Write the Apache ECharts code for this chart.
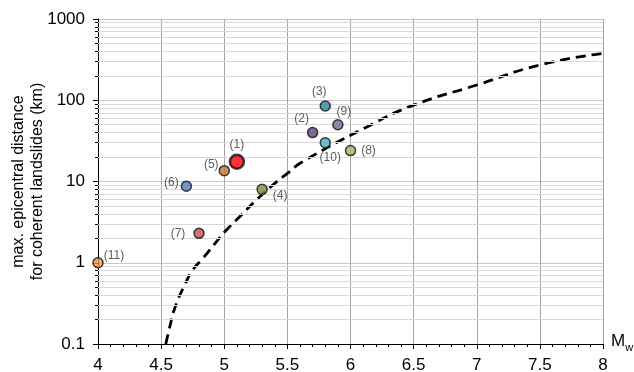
<!DOCTYPE html>
<html><head><meta charset="utf-8">
<script src="https://cdn.jsdelivr.net/npm/echarts@6/dist/echarts.min.js"></script>
<style>html,body{margin:0;padding:0;background:#fff}#c{width:634px;height:372px}</style>
</head><body><div id="c"></div>
<script>
// Data
const pointNames = ['(1)','(2)','(3)','(4)','(5)','(6)','(7)','(8)','(9)','(10)','(11)'];
const magnitudes = [5.1, 5.7, 5.8, 5.3, 5.0, 4.7, 4.8, 6.0, 5.9, 5.8, 4.0];
const distances = [17.5, 40, 85, 8.0, 13.6, 8.75, 2.3, 24, 50, 30, 1.0];
const curveMw = [4.537, 4.569, 4.608, 4.687, 4.752, 4.832, 4.95, 5.03, 5.136, 5.267, 5.386, 5.518, 5.60, 6.13, 6.50, 7.00, 7.50, 8.00];
const curveDist = [0.1, 0.164, 0.276, 0.535, 0.818, 1.14, 1.91, 2.66, 3.88, 6.2, 9.1, 13.2, 16.8, 47, 87, 154, 272, 378];
const xTicks = [4, 4.5, 5, 5.5, 6, 6.5, 7, 7.5, 8];
const yTicks = [0.1, 1, 10, 100, 1000];

// styles
const pointColors = ['#ff0000','#5f497a','#31859c','#77933c','#c5772f','#4f81bd','#c0504d','#9bbb59','#8064a2','#4bacc6','#f79646'];
const labelOffsets = [[0,-17],[-11,-14],[-6,-14],[18,6],[-13,-6],[-15,-4],[-21,0],[18,0],[6,-13],[5,15],[16,-7]];

const minorVals = [];
for (let d = 0; d < yTicks.length - 1; d++) {
  for (let k = 2; k <= 9; k++) minorVals.push(+(yTicks[d] * k).toPrecision(3));
}

const chart = echarts.init(document.getElementById('c'), null, {renderer: 'canvas'});
const font = 'Liberation Sans, Arial, sans-serif';
chart.setOption({
  animation: false,
  grid: {left: 98, right: 31, top: 19, bottom: 28, containLabel: false, outerBoundsMode: 'none'},
  xAxis: {
    type: 'value', min: 4, max: 8, interval: 0.5,
    name: '{m|M}{w|w}', nameLocation: 'end', nameGap: 8, nameMoveOverlap: false,
    nameTextStyle: {rich: {
      m: {fontSize: 17, fontFamily: font, color: '#000', padding: [0,0,6,0]},
      w: {fontSize: 11, fontFamily: font, color: '#000', padding: [8,0,0,0]}
    }},
    axisLine: {show: true, lineStyle: {color: '#000', width: 1}},
    axisTick: {show: true, length: 5, lineStyle: {color: '#000'}},
    minorTick: {show: true, splitNumber: 5, length: 3, lineStyle: {color: '#000'}},
    axisLabel: {fontSize: 17, fontFamily: font, color: '#000', margin: 13,
      formatter: v => xTicks.includes(v) ? String(v) : ''},
    splitLine: {show: true, lineStyle: {color: '#a6a6a6', width: 1}}
  },
  yAxis: {
    type: 'log', logBase: 10, min: 0.1, max: 1000,
    name: 'max. epicentral distance\nfor coherent landslides (km)',
    nameLocation: 'middle', nameGap: 51, nameRotate: 90, nameMoveOverlap: false,
    nameTextStyle: {fontSize: 16, fontFamily: font, color: '#000', lineHeight: 19},
    axisLine: {show: true, lineStyle: {color: '#000', width: 1}},
    axisTick: {show: true, length: 5, lineStyle: {color: '#000'}},
    minorTick: {show: true, splitNumber: 9, length: 3, lineStyle: {color: '#000'}},
    axisLabel: {fontSize: 17, fontFamily: font, color: '#000', margin: 13,
      formatter: v => String(+v.toPrecision(3))},
    splitLine: {show: true, lineStyle: {color: '#c8c8c8', width: 1}}
  },
  series: [
    {
      type: 'line', data: curveMw.map((m, i) => [m, curveDist[i]]),
      smooth: true, showSymbol: false, symbol: 'none',
      lineStyle: {color: '#000', width: 2.8, type: [10, 6]},
      markLine: {
        silent: true, symbol: 'none', label: {show: false},
        lineStyle: {color: '#d9d9d9', width: 1, type: 'solid'},
        data: minorVals.map(v => ({yAxis: v}))
      },
      z: 3
    },
    {
      type: 'scatter',
      data: magnitudes.map((m, i) => ({
        value: [m, distances[i]],
        name: pointNames[i],
        symbolSize: i === 0 ? 14 : 10,
        itemStyle: {color: pointColors[i], borderColor: '#111', borderWidth: i === 0 ? 2.5 : 1.5},
        label: {show: true, position: 'inside', offset: labelOffsets[i], formatter: pointNames[i],
          fontSize: 12, fontFamily: font, color: '#333'}
      })),
      z: 5
    }
  ]
});
</script></body></html>
